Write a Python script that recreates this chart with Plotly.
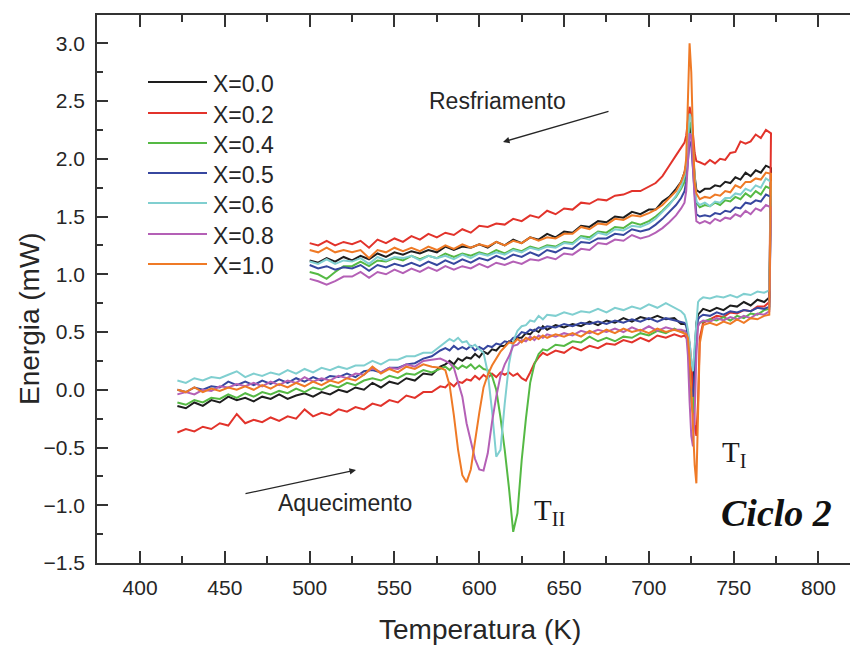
import plotly.graph_objects as go

# Sample temperatures (K) for the heating branch (ascending)
HEAT_T = [422, 427, 432, 437, 442, 447, 452, 457, 462, 467, 472, 477, 482, 487, 492, 497,
          502, 507, 512, 517, 522, 527, 532, 537, 542, 547, 552, 557, 562, 567, 572, 577,
          580, 582.5, 585, 587.5, 590, 592.5, 595, 597.5, 600, 602.5, 605, 607.5, 610, 612.5,
          615, 617.5, 620, 622.5, 625, 627.5, 630, 632.5, 635, 637.5, 640,
          645, 650, 655, 660, 665, 670, 675, 680, 685, 690, 695, 700, 705, 710, 715, 719,
          721, 722, 723, 724, 725, 726, 727, 728, 729, 730, 732,
          736, 740, 744, 748, 752, 756, 760, 764, 768, 771]

# Sample temperatures (K) for the cooling branch (descending)
COOL_T = [772, 769, 766, 763, 760, 757, 754, 751, 748, 745, 742, 739, 736, 733,
          730, 728, 727, 726, 725, 724, 723, 722, 721,
          719, 716, 712, 708, 704, 700,
          695, 690, 685, 680, 675, 670, 665, 660, 655, 650, 645, 640, 635, 630, 625, 620,
          615, 610, 605, 600, 595, 590, 585, 580, 575, 570, 565, 560, 555, 550, 545, 540,
          535, 530, 525, 520, 515, 510, 505, 500]

# Heat flow (mW), heating branch
HEAT_X00 = [-0.14, -0.16, -0.11, -0.14, -0.09, -0.11, -0.06, -0.09, -0.07, -0.10, -0.06, -0.08, -0.04, -0.08, -0.05, -0.03,
            -0.06, -0.02, -0.04, 0.00, -0.02, 0.02, 0.00, 0.06, 0.02, 0.07, 0.05, 0.10, 0.08, 0.14, 0.13, 0.20,
            0.22, 0.25, 0.22, 0.27, 0.25, 0.28, 0.27, 0.31, 0.28, 0.33, 0.31, 0.35, 0.34, 0.38, 0.38, 0.42, 0.41,
            0.45, 0.45, 0.49, 0.48, 0.52, 0.50, 0.55, 0.52,
            0.56, 0.54, 0.57, 0.55, 0.59, 0.56, 0.60, 0.58, 0.62, 0.59, 0.63, 0.61, 0.64, 0.61, 0.62, 0.57,
            0.57, 0.56, 0.50, 0.30, 0.08, 0.05, 0.28, 0.58, 0.65, 0.67, 0.70,
            0.68, 0.71, 0.69, 0.73, 0.72, 0.76, 0.73, 0.78, 0.76, 0.80]
HEAT_X02 = [-0.37, -0.34, -0.36, -0.32, -0.34, -0.29, -0.31, -0.21, -0.29, -0.26, -0.28, -0.24, -0.27, -0.23, -0.25, -0.17,
            -0.23, -0.20, -0.22, -0.17, -0.19, -0.15, -0.17, -0.12, -0.14, -0.09, -0.11, -0.05, -0.07, -0.02, -0.02, 0.03,
            0.02, 0.06, 0.03, 0.07, 0.06, 0.09, 0.08, 0.12, 0.09, 0.13, 0.10, 0.14, 0.11, 0.15, 0.13, 0.15, 0.12,
            0.14, 0.10, 0.08, 0.15, 0.23, 0.28, 0.32, 0.30,
            0.34, 0.32, 0.37, 0.34, 0.38, 0.36, 0.40, 0.39, 0.43, 0.41, 0.45, 0.42, 0.47, 0.45, 0.48, 0.46,
            0.47, 0.45, 0.45, 0.41, 0.25, 0.00, -0.30, -0.40, -0.10, 0.45, 0.58,
            0.61, 0.64, 0.63, 0.67, 0.66, 0.69, 0.68, 0.72, 0.72, 0.76]
HEAT_X04 = [-0.11, -0.13, -0.09, -0.11, -0.07, -0.08, -0.04, -0.07, -0.03, -0.06, -0.02, -0.04, -0.01, -0.03, 0.01, -0.02,
            0.02, 0.00, 0.04, 0.02, 0.06, 0.04, 0.08, 0.10, 0.08, 0.12, 0.10, 0.14, 0.13, 0.17, 0.15, 0.18,
            0.20, 0.17, 0.21, 0.18, 0.21, 0.19, 0.22, 0.18, 0.21, 0.18, 0.17, 0.12, 0.00, -0.24, -0.52, -0.85, -1.23,
            -1.07, -0.61, -0.25, 0.06, 0.22, 0.31, 0.35, 0.34,
            0.39, 0.38, 0.42, 0.41, 0.46, 0.42, 0.45, 0.42, 0.46, 0.45, 0.49, 0.47, 0.51, 0.49, 0.53, 0.50,
            0.51, 0.50, 0.44, 0.18, -0.10, -0.20, 0.05, 0.45, 0.56, 0.58, 0.59,
            0.61, 0.60, 0.63, 0.60, 0.64, 0.62, 0.66, 0.65, 0.69, 0.70]
HEAT_X05 = [0.00, -0.02, 0.02, 0.00, 0.03, 0.02, 0.07, 0.04, 0.07, 0.04, 0.08, 0.05, 0.09, 0.06, 0.10, 0.07,
            0.11, 0.08, 0.12, 0.11, 0.14, 0.11, 0.16, 0.17, 0.15, 0.19, 0.19, 0.22, 0.23, 0.27, 0.29, 0.34,
            0.36, 0.34, 0.38, 0.35, 0.37, 0.35, 0.38, 0.34, 0.37, 0.35, 0.38, 0.37, 0.40, 0.39, 0.42, 0.41, 0.45,
            0.46, 0.50, 0.49, 0.52, 0.51, 0.54, 0.53, 0.55,
            0.54, 0.57, 0.55, 0.58, 0.57, 0.59, 0.57, 0.60, 0.58, 0.61, 0.59, 0.62, 0.59, 0.62, 0.60, 0.59,
            0.58, 0.56, 0.46, 0.20, 0.00, -0.06, 0.15, 0.50, 0.61, 0.63, 0.65,
            0.64, 0.67, 0.65, 0.68, 0.67, 0.69, 0.68, 0.71, 0.70, 0.72]
HEAT_X06 = [0.08, 0.06, 0.10, 0.08, 0.11, 0.10, 0.13, 0.16, 0.11, 0.14, 0.12, 0.15, 0.13, 0.17, 0.14, 0.18,
            0.15, 0.19, 0.17, 0.20, 0.18, 0.21, 0.21, 0.25, 0.22, 0.26, 0.26, 0.29, 0.29, 0.32, 0.32, 0.38,
            0.41, 0.44, 0.42, 0.45, 0.41, 0.42, 0.37, 0.39, 0.35, 0.32, 0.15, -0.18, -0.58, -0.52, -0.12, 0.22, 0.42,
            0.51, 0.55, 0.56, 0.60, 0.59, 0.64, 0.61, 0.65,
            0.64, 0.67, 0.65, 0.68, 0.67, 0.70, 0.67, 0.71, 0.69, 0.72, 0.70, 0.74, 0.71, 0.75, 0.71, 0.68,
            0.65, 0.60, 0.52, 0.42, 0.25, 0.16, 0.38, 0.62, 0.76, 0.78, 0.80,
            0.79, 0.81, 0.80, 0.82, 0.80, 0.83, 0.82, 0.85, 0.84, 0.86]
HEAT_X08 = [-0.04, -0.02, -0.04, 0.00, -0.01, 0.03, 0.02, 0.05, 0.03, 0.06, 0.03, 0.07, 0.04, 0.08, 0.06, 0.11,
            0.07, 0.10, 0.08, 0.12, 0.10, 0.14, 0.13, 0.19, 0.15, 0.19, 0.18, 0.22, 0.20, 0.25, 0.26, 0.27,
            0.25, 0.23, 0.19, 0.07, -0.06, -0.29, -0.46, -0.60, -0.69, -0.70, -0.55, -0.28, -0.06, 0.12, 0.22, 0.29, 0.38,
            0.39, 0.43, 0.42, 0.46, 0.43, 0.47, 0.45, 0.48,
            0.46, 0.49, 0.47, 0.51, 0.49, 0.52, 0.50, 0.53, 0.50, 0.54, 0.51, 0.55, 0.51, 0.54, 0.52, 0.52,
            0.51, 0.49, 0.30, -0.10, -0.40, -0.49, -0.20, 0.30, 0.55, 0.58, 0.60,
            0.59, 0.62, 0.60, 0.63, 0.61, 0.64, 0.62, 0.66, 0.65, 0.68]
HEAT_X10 = [0.00, -0.02, 0.02, -0.02, 0.01, -0.01, 0.02, 0.00, 0.03, 0.00, 0.04, 0.01, 0.05, 0.02, 0.06, 0.03,
            0.07, 0.04, 0.08, 0.06, 0.10, 0.08, 0.13, 0.20, 0.14, 0.18, 0.15, 0.20, 0.18, 0.22, 0.20, 0.19,
            0.17, 0.04, -0.22, -0.52, -0.74, -0.80, -0.69, -0.43, -0.20, 0.02, 0.13, 0.21, 0.27, 0.33, 0.37, 0.41, 0.40,
            0.44, 0.41, 0.45, 0.43, 0.46, 0.44, 0.47, 0.45,
            0.48, 0.46, 0.49, 0.46, 0.51, 0.48, 0.52, 0.49, 0.53, 0.50, 0.52, 0.49, 0.53, 0.50, 0.52, 0.50,
            0.49, 0.48, 0.45, 0.28, 0.00, -0.30, -0.65, -0.81, -0.30, 0.40, 0.56,
            0.58, 0.56, 0.59, 0.57, 0.61, 0.58, 0.62, 0.61, 0.64, 0.65]

# Heat flow (mW), cooling branch
COOL_X00 = [1.92, 1.94, 1.88, 1.90, 1.85, 1.88, 1.82, 1.84, 1.79, 1.80, 1.76, 1.77, 1.74, 1.74,
            1.71, 1.73, 1.85, 2.05, 2.22, 2.28, 2.10, 1.95, 1.88,
            1.80, 1.74, 1.67, 1.63, 1.56, 1.56,
            1.52, 1.54, 1.49, 1.50, 1.45, 1.46, 1.41, 1.42, 1.36, 1.37, 1.32, 1.35, 1.30, 1.32, 1.27, 1.30,
            1.25, 1.28, 1.23, 1.26, 1.23, 1.24, 1.21, 1.24, 1.19, 1.21, 1.18, 1.20, 1.17, 1.19, 1.15, 1.18,
            1.13, 1.16, 1.12, 1.15, 1.11, 1.14, 1.10, 1.12]
COOL_X02 = [2.22, 2.25, 2.18, 2.21, 2.15, 2.13, 2.15, 2.06, 2.05, 1.99, 2.00, 1.96, 1.99, 1.95,
            1.97, 1.98, 2.05, 2.20, 2.38, 2.45, 2.30, 2.20, 2.14,
            2.10, 2.03, 1.94, 1.85, 1.79, 1.76,
            1.72, 1.72, 1.69, 1.68, 1.64, 1.65, 1.61, 1.62, 1.56, 1.57, 1.52, 1.55, 1.49, 1.51, 1.46, 1.48,
            1.43, 1.44, 1.41, 1.42, 1.36, 1.39, 1.34, 1.36, 1.32, 1.35, 1.30, 1.33, 1.28, 1.31, 1.27, 1.30,
            1.23, 1.29, 1.26, 1.28, 1.25, 1.29, 1.25, 1.27]
COOL_X04 = [1.74, 1.76, 1.69, 1.72, 1.67, 1.70, 1.65, 1.67, 1.63, 1.64, 1.60, 1.62, 1.59, 1.60,
            1.58, 1.62, 1.80, 2.10, 2.28, 2.32, 2.10, 1.90, 1.80,
            1.74, 1.67, 1.61, 1.55, 1.50, 1.46,
            1.43, 1.45, 1.40, 1.41, 1.36, 1.37, 1.32, 1.33, 1.27, 1.28, 1.24, 1.25, 1.22, 1.24, 1.20, 1.22,
            1.18, 1.21, 1.17, 1.19, 1.16, 1.18, 1.15, 1.18, 1.14, 1.16, 1.13, 1.16, 1.12, 1.14, 1.11, 1.12,
            1.07, 1.11, 1.07, 1.07, 1.02, 0.96, 1.00, 1.02]
COOL_X05 = [1.67, 1.69, 1.63, 1.64, 1.61, 1.62, 1.57, 1.58, 1.54, 1.55, 1.52, 1.53, 1.50, 1.51,
            1.50, 1.52, 1.70, 1.95, 2.12, 2.15, 1.95, 1.80, 1.72,
            1.66, 1.60, 1.54, 1.48, 1.43, 1.39,
            1.37, 1.39, 1.34, 1.35, 1.31, 1.31, 1.27, 1.28, 1.22, 1.23, 1.19, 1.21, 1.16, 1.19, 1.15, 1.17,
            1.13, 1.16, 1.12, 1.14, 1.10, 1.13, 1.09, 1.12, 1.08, 1.11, 1.07, 1.10, 1.07, 1.09, 1.06, 1.08,
            1.03, 1.08, 1.05, 1.06, 1.04, 1.07, 1.05, 1.08]
COOL_X06 = [1.80, 1.83, 1.75, 1.77, 1.72, 1.74, 1.69, 1.70, 1.66, 1.66, 1.62, 1.63, 1.59, 1.62,
            1.60, 1.63, 1.85, 2.15, 2.35, 2.39, 2.15, 1.95, 1.85,
            1.76, 1.68, 1.60, 1.54, 1.48, 1.44,
            1.41, 1.42, 1.38, 1.39, 1.34, 1.36, 1.30, 1.32, 1.26, 1.27, 1.23, 1.24, 1.21, 1.23, 1.19, 1.21,
            1.17, 1.19, 1.16, 1.18, 1.14, 1.17, 1.13, 1.16, 1.14, 1.16, 1.12, 1.16, 1.14, 1.15, 1.12, 1.15,
            1.09, 1.14, 1.11, 1.12, 1.09, 1.13, 1.09, 1.11]
COOL_X08 = [1.58, 1.60, 1.55, 1.57, 1.52, 1.55, 1.50, 1.52, 1.48, 1.49, 1.46, 1.48, 1.44, 1.46,
            1.44, 1.46, 1.65, 1.95, 2.20, 2.22, 1.95, 1.72, 1.62,
            1.57, 1.51, 1.45, 1.40, 1.36, 1.33,
            1.31, 1.34, 1.29, 1.30, 1.26, 1.27, 1.21, 1.22, 1.17, 1.18, 1.13, 1.15, 1.12, 1.13, 1.09, 1.11,
            1.08, 1.10, 1.06, 1.09, 1.05, 1.07, 1.04, 1.07, 1.03, 1.06, 1.02, 1.05, 1.01, 1.04, 1.00, 1.02,
            0.97, 1.02, 0.98, 0.98, 0.94, 0.91, 0.94, 0.96]
COOL_X10 = [1.87, 1.88, 1.82, 1.83, 1.80, 1.80, 1.75, 1.77, 1.71, 1.72, 1.68, 1.69, 1.66, 1.67,
            1.65, 1.70, 1.80, 2.20, 2.75, 3.00, 2.40, 2.00, 1.88,
            1.80, 1.72, 1.66, 1.60, 1.56, 1.53,
            1.50, 1.51, 1.47, 1.48, 1.43, 1.44, 1.39, 1.41, 1.35, 1.35, 1.31, 1.32, 1.29, 1.32, 1.27, 1.29,
            1.25, 1.28, 1.24, 1.26, 1.23, 1.26, 1.22, 1.25, 1.21, 1.24, 1.20, 1.23, 1.20, 1.23, 1.19, 1.21,
            1.14, 1.21, 1.19, 1.21, 1.19, 1.23, 1.19, 1.21]

LABELS = ["X=0.0", "X=0.2", "X=0.4", "X=0.5", "X=0.6", "X=0.8", "X=1.0"]
HEAT = [HEAT_X00, HEAT_X02, HEAT_X04, HEAT_X05, HEAT_X06, HEAT_X08, HEAT_X10]
COOL = [COOL_X00, COOL_X02, COOL_X04, COOL_X05, COOL_X06, COOL_X08, COOL_X10]
COLORS = ["#1e1e1e", "#e2332b", "#55b944", "#37479f", "#80cfd0", "#b460b6", "#ef7a26"]

for h, c in zip(HEAT, COOL):
    assert len(h) == len(HEAT_T), (len(h), len(HEAT_T))
    assert len(c) == len(COOL_T), (len(c), len(COOL_T))

W, H = 850, 646
ML, MR, MT, MB = 97, 0, 15, 83
PW, PH = W - ML - MR, H - MT - MB


def px(x):
    return (x - ML) / PW


def py(y):
    return (H - MB - y) / PH


TXT = "#262626"
SANS = "Liberation Sans, Arial, sans-serif"
SERIF = "Liberation Serif, Times New Roman, serif"

fig = go.Figure()
for name, h, c, col in zip(LABELS, HEAT, COOL, COLORS):
    fig.add_trace(go.Scatter(
        x=HEAT_T + COOL_T, y=h + c, mode="lines", name=name,
        line=dict(color=col, width=2), showlegend=False,
    ))

shapes = []
annotations = []


def label(x, y, text, size, family=SANS, color=TXT, xanchor="center", **kw):
    annotations.append(dict(xref="paper", yref="paper", x=px(x), y=py(y), text=text,
                            showarrow=False, xanchor=xanchor, yanchor="middle",
                            font=dict(family=family, size=size, color=color), **kw))


def arrow(x_head, y_head, dx, dy):
    annotations.append(dict(xref="paper", yref="paper", x=px(x_head), y=py(y_head),
                            ax=dx, ay=dy, text="", showarrow=True, arrowhead=2,
                            arrowsize=1, arrowwidth=1.3, arrowcolor=TXT))


# hand-placed legend
legend_rows = [82, 113, 143, 173, 203, 234, 264]
for name, col, yr in zip(LABELS, COLORS, legend_rows):
    shapes.append(dict(type="line", xref="paper", yref="paper",
                       x0=px(148), x1=px(207), y0=py(yr), y1=py(yr),
                       line=dict(color=col, width=2)))
    label(211, yr + 2, name, 23, xanchor="left")

# process labels and arrows
label(497, 101, "Resfriamento", 23)
arrow(503, 142, 107, -31)
label(345, 503, "Aquecimento", 23)
arrow(356, 470, -112, 24)
label(549, 512, "T<sub>II</sub>", 29, family=SERIF, color="#1a1a1a")
label(734, 454, "T<sub>I</sub>", 29, family=SERIF, color="#1a1a1a")
label(776, 513, "<b><i>Ciclo 2</i></b>", 38, family=SERIF, color="#111111")

# axis titles
label(480, 629, "Temperatura (K)", 28)
label(29, 319, "Energia (mW)", 28, textangle=-90)

fig.update_layout(
    width=W, height=H,
    margin=dict(l=ML, r=MR, t=MT, b=MB, pad=0),
    paper_bgcolor="white", plot_bgcolor="white",
    shapes=shapes, annotations=annotations,
    xaxis=dict(
        range=[374.6, 374.6 + PW / 1.696], tick0=400, dtick=50,
        ticks="inside", ticklen=12, tickwidth=1.5, tickcolor="#333333",
        showline=True, linecolor="#333333", linewidth=1.5, mirror="ticks",
        showgrid=False, zeroline=False, ticklabelstandoff=5,
        tickfont=dict(family=SANS, size=21, color=TXT),
        minor=dict(ticks="inside", ticklen=7, tickwidth=1.5, tickcolor="#333333",
                   tick0=400, dtick=25, showgrid=False),
    ),
    yaxis=dict(
        range=[-1.5, 3.245], tick0=0, dtick=0.5, tickformat=".1f",
        ticks="inside", ticklen=11, tickwidth=1.5, tickcolor="#333333",
        showline=True, linecolor="#333333", linewidth=1.5, mirror=False,
        showgrid=False, zeroline=False, ticklabelstandoff=6,
        tickfont=dict(family=SANS, size=21, color=TXT),
        minor=dict(ticks="inside", ticklen=6, tickwidth=1.5, tickcolor="#333333",
                   tick0=0, dtick=0.25, showgrid=False),
    ),
)

fig.write_html("out.html")
